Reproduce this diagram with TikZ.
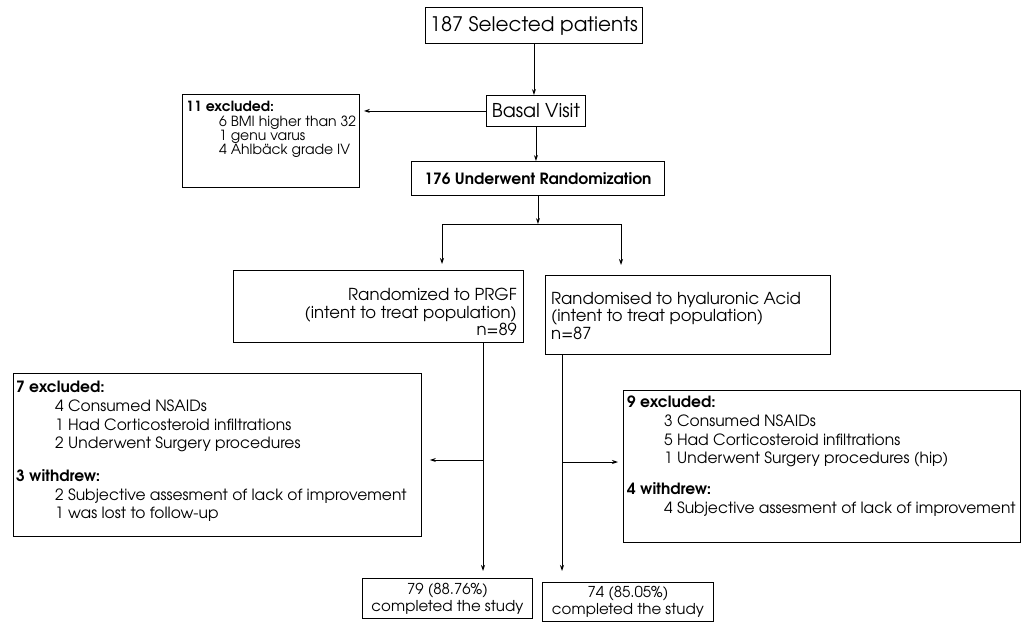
\documentclass[tikz,border=0pt]{standalone}
\usepackage{fontspec}
\setmainfont{TeX Gyre Adventor}
\usetikzlibrary{arrows.meta}
\tikzset{
  box/.style={draw, line width=0.9pt, rectangle, inner sep=0pt, anchor=north west},
  txt/.style={anchor=north west, inner sep=0pt, align=left},
  arr/.style={draw, line width=0.8pt, -{Stealth[length=6pt,width=4pt]}},
  ln/.style={draw, line width=0.8pt},
  farm/.style={font=\fontsize{16.5}{17.5}\selectfont},
  fside/.style={font=\fontsize{15.5}{18.7}\selectfont},
  fdone/.style={font=\fontsize{15}{17}\selectfont},
}
\newcommand{\ind}{\hspace*{39pt}}
\newcommand{\indr}{\hspace*{37pt}}
\begin{document}
\begin{tikzpicture}[x=1pt,y=-1pt]
\useasboundingbox (0,0) rectangle (1023,632);
% top part
\node[box, minimum width=217, minimum height=36, font=\fontsize{20}{24}\selectfont] (sel) at (425,7) {187 Selected patients};
\node[box, minimum width=99, minimum height=31, font=\fontsize{19}{22}\selectfont] (basal) at (486,95) {Basal Visit};
\node[box, minimum width=177, minimum height=93] (exA) at (182,94) {};
\node[txt, font=\fontsize{14}{14}\selectfont] (exAt) at (186,101) {\textbf{11 excluded:}\\[1pt]\hspace*{33pt}6 BMI higher than 32\\\hspace*{33pt}1 genu varus\\\hspace*{33pt}4 Ahlbäck grade IV};
\node[box, minimum width=253, minimum height=34, font=\bfseries\fontsize{15.5}{18}\selectfont] (rand) at (411,161) {176 Underwent Randomization};
\coordinate (split) at (537.5,224);
\coordinate (sl) at (442,224);
\coordinate (sr) at (621,224);
% randomised arms
\node[box, minimum width=290, minimum height=72] (prgf) at (233,270) {};
\node[txt, anchor=north east, align=right, farm] (prgft) at (517,288) {Randomized to PRGF\\(intent to treat population)\\n=89};
\node[box, minimum width=285, minimum height=79] (hyal) at (545,275) {};
\node[txt, farm] (hyalt) at (551,292) {Randomised to hyaluronic Acid\\(intent to treat population)\\n=87};
% exclusions
\node[box, minimum width=408, minimum height=163] (exL) at (13,373) {};
\node[txt, fside] (exLt) at (16,381) {\textbf{7 excluded:}\\\ind 4 Consumed NSAIDs\\\ind 1 Had Corticosteroid infiltrations\\\ind 2 Underwent Surgery procedures\\[14pt]\textbf{3 withdrew:}\\\ind 2 Subjective assesment of lack of improvement\\\ind 1 was lost to follow-up};
\node[box, minimum width=397, minimum height=152] (exR) at (623,390) {};
\node[txt, fside] (exRt) at (627,396) {\textbf{9 excluded:}\\\indr 3 Consumed NSAIDs\\\indr 5 Had Corticosteroid infiltrations\\\indr 1 Underwent Surgery procedures (hip)\\[12pt]\textbf{4 withdrew:}\\\indr 4 Subjective assesment of lack of improvement};
% completed
\node[box, minimum width=170, minimum height=40, align=center, fdone] (c79) at (362,578) {79 (88.76\%)\\completed the study};
\node[box, minimum width=171, minimum height=39, align=center, fdone] (c74) at (542,582) {74 (85.05\%)\\completed the study};
\coordinate (lv) at (483,0);
\coordinate (rv) at (562,0);
\coordinate (la) at (483,460);
\coordinate (ra) at (562,462);
% connectors
\draw[arr] (sel.south) -- (sel.south |- basal.north);
\draw[arr, shorten >=4pt] (basal.west) -- (basal.west -| exA.east);
\draw[arr] (basal.south) -- (basal.south |- rand.north);
\draw[arr] (rand.south) -- (rand.south |- split);
\draw[ln] (sl) -- (sr);
\draw[arr, shorten >=6pt] (sl) -- (sl |- prgf.north);
\draw[arr, shorten >=10pt] (sr) -- (sr |- hyal.north);
\draw[arr, shorten >=7pt] (prgf.south -| lv) -- (lv |- c79.north);
\draw[arr, shorten >=11pt] (hyal.south -| rv) -- (rv |- c74.north);
\draw[arr, shorten >=8pt] (la) -- (la -| exL.east);
\draw[arr, shorten >=5pt] (ra) -- (ra -| exR.west);
\end{tikzpicture}
\end{document}
